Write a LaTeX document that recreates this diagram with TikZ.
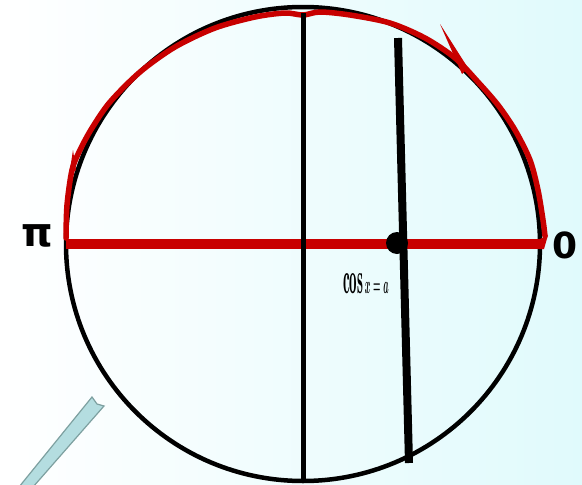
\documentclass[tikz,border=0pt]{standalone}
\usepackage{fontspec}
\setsansfont{DejaVu Sans}
\newfontfamily\dejabold{DejaVu Sans Bold}
\begin{document}
\begin{tikzpicture}[x=1pt,y=-1pt,
  circ/.style={line width=4.5pt,black},
  redline/.style={line width=10pt,color=redc},
  redarc/.style={line width=5.5pt,color=redc,line join=round,line cap=round},
  blackline/.style={line width=5pt,black},
  lbl/.style={inner sep=0pt,font=\dejabold}]
\definecolor{redc}{RGB}{200,0,0}
\definecolor{bgc}{RGB}{224,250,252}
\definecolor{arrfill}{RGB}{180,221,224}
\definecolor{arrdraw}{RGB}{125,160,160}
\useasboundingbox (0,0) rectangle (582,485);
\shade[left color=white,right color=bgc] (0,0) rectangle (582,485);
% circle
\coordinate (O) at (303,244);
\draw[circ] (O) circle[radius=237];
% red upper arc
\draw[redarc] plot[smooth] coordinates {(66,238) (67,205) (72,170) (80,150) (92,128) (110,102) (140,72) (175,47) (215,28) (255,17) (285,13) (303,15) (320,12) (350,15) (390,23) (425,38) (455,58) (478,82) (498,105) (515,130) (530,160) (538,190) (543,220) (545,236)};
\fill[redc] (73,150) -- (69,176) -- (76,170) -- cycle;
\fill[redc] (440,24) -- (462,74) -- (468,68) -- cycle;
% horizontal red line
\coordinate (L) at (66,244);
\coordinate (R) at (541,244);
\draw[redline] (L) -- (R);
\fill[redc] (540,239) -- (548,235) -- (544,249) -- (540,249) -- cycle;
% vertical lines
\coordinate (T) at (303,13);
\coordinate (B) at (303,481);
\draw[blackline] (T) -- (B);
\coordinate (S1) at (398,38);
\coordinate (S2) at (409,463);
\draw[line width=8pt] (S1) -- (S2);
% dot
\node[circle,fill=black,minimum size=22pt,inner sep=0pt] (dot) at (397,243) {};
% labels
\node[lbl,font=\dejabold\fontsize{40}{40}\selectfont] (pi) at (37,236) {π};
\node[lbl,font=\dejabold\fontsize{36}{36}\selectfont] (zero) at (565,245) {0};
\node[inner sep=0pt] (cos) at (366,284) {\scalebox{0.34}[1]{\fontsize{44}{44}\selectfont\boldmath$\cos x = a$}};
% arrow piece
\fill[arrfill,draw=arrdraw,line width=1.2pt] (92,397) -- (97,404) -- (104,406) -- (33,487) -- (19,487) -- cycle;
\end{tikzpicture}
\end{document}
